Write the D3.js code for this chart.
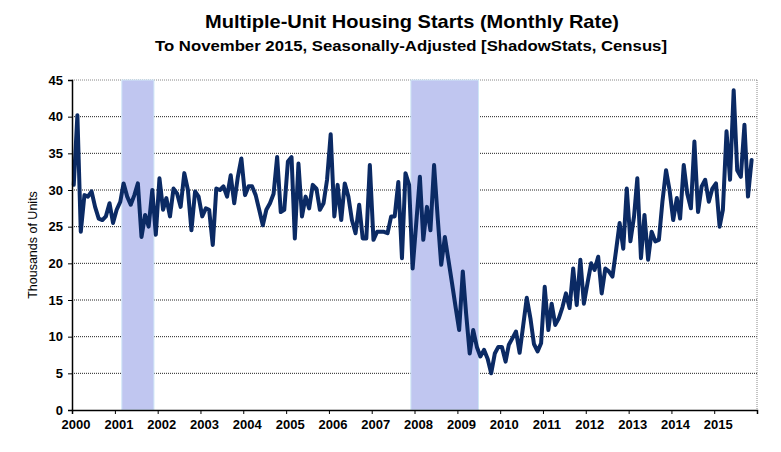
<!DOCTYPE html>
<html>
<head>
<meta charset="utf-8">
<script src="https://cdn.jsdelivr.net/npm/d3@7"></script>
<style>
  body { margin: 0; background: #fff; }
  text { font-family: "Liberation Sans", Arial, sans-serif; }
</style>
</head>
<body>
<div id="chart"></div>
<script>
// monthly multi-unit starts, thousands of units (monthly rate), Jan 2000 .. Nov 2015
var startYear = 2000;
var starts = [
  30.7, 40.2, 24.3, 29.3, 29.1, 29.8, 27.7, 26.1, 25.9, 26.4, 28.2, 25.5,
  27.3, 28.4, 30.9, 29.1, 28.0, 29.3, 30.9, 23.6, 26.6, 25.0, 30.0, 23.9,
  31.6, 27.3, 28.9, 26.4, 30.2, 29.5, 27.7, 32.3, 30.0, 24.5, 29.8, 29.1,
  26.4, 27.5, 27.3, 22.5, 30.2, 30.0, 30.5, 29.1, 32.0, 28.2, 31.8, 34.3,
  29.3, 30.5, 30.5, 29.3, 27.3, 25.2, 27.3, 28.2, 29.5, 34.5, 27.0, 27.3,
  33.9, 34.5, 23.4, 33.6, 26.4, 29.1, 27.5, 30.7, 30.2, 27.3, 28.2, 31.4,
  37.6, 26.4, 30.7, 25.9, 30.9, 29.1, 25.9, 24.1, 28.0, 23.4, 23.4, 33.4,
  23.2, 24.3, 24.3, 24.3, 24.1, 26.4, 26.4, 31.1, 20.7, 32.3, 30.7, 19.3,
  25.5, 31.8, 23.2, 27.7, 24.5, 33.4, 26.4, 19.8, 23.6, 20.5, 17.3, 14.1,
  10.9, 18.9, 13.2, 7.7, 10.9, 8.6, 7.3, 8.2, 7.0, 5.0, 7.7, 8.6,
  8.6, 6.6, 8.9, 9.8, 10.7, 7.8, 11.5, 15.3, 12.5, 9.0, 8.0, 9.1,
  16.8, 10.9, 14.5, 11.6, 12.5, 14.0, 15.9, 13.9, 19.3, 14.3, 20.5, 14.5,
  17.3, 20.0, 19.1, 20.9, 15.9, 19.3, 18.9, 18.2, 21.8, 25.5, 22.0, 30.2,
  23.0, 26.4, 31.6, 20.7, 26.6, 20.5, 24.3, 23.0, 23.2, 28.4, 32.7, 30.0,
  25.9, 28.9, 26.1, 33.4, 29.5, 27.5, 36.6, 27.0, 30.5, 31.4, 28.4, 30.2,
  30.9, 25.0, 27.3, 38.0, 31.4, 43.6, 32.7, 31.8, 38.9, 29.1, 34.1
];
// recessions (shaded): [first month, last month]
var recessions = [
  [new Date(2001, 2, 1), new Date(2001, 10, 30)],
  [new Date(2007, 11, 1), new Date(2009, 5, 30)]
];
var yearLabels = ["2000", "2001", "2002", "2003", "2004", "2005", "2006", "2007",
                  "2008", "2009", "2010", "2011", "2012", "2013", "2014", "2015"];
var yTicks = [0, 5, 10, 15, 20, 25, 30, 35, 40, 45];

var W = 781, H = 452;
var margin = {top: 80, right: 24, bottom: 42, left: 72},
    w = W - margin.left - margin.right,
    h = H - margin.top - margin.bottom;

var data = starts.map(function(v, i) {
  return {date: new Date(startYear, i, 16), value: v};
});

var x = d3.scaleTime()
  .domain([new Date(2000, 0, 1), new Date(2016, 0, 1)])
  .range([0, w]);
var y = d3.scaleLinear().domain([0, 45]).range([h, 0]);

var svg = d3.select("#chart").append("svg")
  .attr("width", W)
  .attr("height", H);

svg.append("rect").attr("width", W).attr("height", H).attr("fill", "#fff");

// titles
svg.append("text")
  .attr("x", 412).attr("y", 28)
  .attr("text-anchor", "middle")
  .attr("textLength", 414).attr("lengthAdjust", "spacingAndGlyphs")
  .style("font-size", "18.5px").style("font-weight", "bold")
  .text("Multiple-Unit Housing Starts (Monthly Rate)");
svg.append("text")
  .attr("x", 411).attr("y", 51)
  .attr("text-anchor", "middle")
  .attr("textLength", 512).attr("lengthAdjust", "spacingAndGlyphs")
  .style("font-size", "15.5px").style("font-weight", "bold")
  .text("To November 2015, Seasonally-Adjusted [ShadowStats, Census]");

var g = svg.append("g")
  .attr("transform", "translate(" + margin.left + "," + margin.top + ")");

// gridlines
g.selectAll(".grid")
  .data(yTicks.filter(function(d) { return d > 0; }))
  .enter().append("line")
    .attr("x1", 0).attr("x2", w)
    .attr("y1", function(d) { return y(d); })
    .attr("y2", function(d) { return y(d); })
    .attr("stroke", function(d) { return d == 45 ? "#888" : "#222"; })
    .attr("stroke-width", 1)
    .attr("stroke-dasharray", "1,1");

// right border
g.append("line")
  .attr("x1", w).attr("x2", w).attr("y1", 0).attr("y2", h)
  .attr("stroke", "#888").attr("stroke-dasharray", "1,1");

// recession bands
g.selectAll(".band")
  .data(recessions)
  .enter().append("rect")
    .attr("x", function(d) { return x(d[0]); })
    .attr("width", function(d) { return x(d[1]) - x(d[0]); })
    .attr("y", 0)
    .attr("height", h)
    .attr("fill", "#c0c6f0")
    .attr("stroke", "#cfe6f6")
    .attr("stroke-width", 1);

// series
var line = d3.line()
  .x(function(d) { return x(d.date); })
  .y(function(d) { return y(d.value); });

g.append("path")
  .datum(data)
  .attr("fill", "none")
  .attr("stroke", "#0b2a64")
  .attr("stroke-width", 4)
  .attr("stroke-linejoin", "round")
  .attr("stroke-linecap", "round")
  .attr("d", line);

// y axis
var yAxis = g.append("g")
  .call(d3.axisLeft(y).tickValues(yTicks).tickSize(4).tickPadding(5));
yAxis.select(".domain").attr("stroke", "#000").attr("stroke-width", 1.5);
yAxis.selectAll("text")
  .style("font-size", "13px").style("font-weight", "bold")
  .style("font-family", "Liberation Sans, Arial, sans-serif");

// x axis
var yearTicks = d3.range(0, 17).map(function(k) { return new Date(startYear + k, 0, 1); });
var xAxis = g.append("g")
  .attr("transform", "translate(0," + h + ")")
  .call(d3.axisBottom(x).tickValues(yearTicks).tickSize(4).tickPadding(6)
    .tickFormat(function(d, i) { return yearLabels[i] || ""; }));
xAxis.select(".domain").attr("stroke", "#000").attr("stroke-width", 1.5);
xAxis.selectAll("text")
  .attr("dx", 3.5)
  .style("font-size", "13px").style("font-weight", "bold")
  .style("font-family", "Liberation Sans, Arial, sans-serif");

// y label
svg.append("text")
  .attr("transform", "rotate(-90)")
  .attr("x", -(margin.top + h / 2))
  .attr("y", 37)
  .attr("text-anchor", "middle")
  .style("font-size", "12.5px")
  .text("Thousands of Units");
</script>
</body>
</html>
